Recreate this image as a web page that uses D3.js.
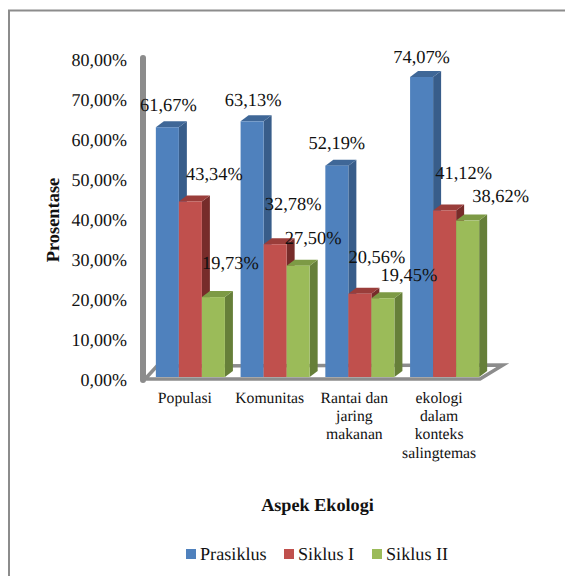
<!DOCTYPE html>
<html>
<head>
<meta charset="utf-8">
<script src="https://cdnjs.cloudflare.com/ajax/libs/d3/7.8.5/d3.min.js"></script>
<style>
  html, body { margin: 0; padding: 0; background: #fff; }
  svg { display: block; }
  text { font-family: "Liberation Serif", serif; fill: #111; text-rendering: geometricPrecision; }
</style>
</head>
<body>
<div id="chart"></div>
<script>
// data
var categories = ["Populasi", "Komunitas", "Rantai dan jaring makanan", "ekologi dalam konteks salingtemas"]
var categoryLines = [["Populasi"], ["Komunitas"], ["Rantai dan", "jaring", "makanan"], ["ekologi", "dalam", "konteks", "salingtemas"]]
var seriesNames = ["Prasiklus", "Siklus I", "Siklus II"]
var prasiklus = [61.67, 63.13, 52.19, 74.07]
var siklus1 = [43.34, 32.78, 20.56, 41.12]
var siklus2 = [19.73, 27.50, 19.45, 38.62]
var tickValues = [0, 10, 20, 30, 40, 50, 60, 70, 80]

// label nudges so the values don't sit on the bars [category][series]
var labelNudge = [
  [[1, -22], [24, -28], [17, -34]],
  [[1, -21], [18, -40], [15, -28]],
  [[0, -23], [17, -37], [26, -23]],
  [[0, -20], [19, -38], [33, -25]]
]

var seriesValues = [prasiklus, siklus1, siklus2]
var front = ["#4f81bd", "#c0504d", "#9bbb59"]
var side = ["#385d8a", "#772c2a", "#667f39"]
var top3d = ["#3f6797", "#9a3d3a", "#7d9a45"]
var axisGray = "#8c8c8c"

var width = 565, height = 576
var depthX = 8, depthY = 6

var fmt = function(v) { return v.toFixed(2).replace(".", ",") + "%" }

var svg = d3.select("#chart").append("svg")
  .attr("width", width)
  .attr("height", height)

// outer frame, only top and left show
svg.append("path")
  .attr("d", d3.line()([[9, height], [9, 10.5], [width, 10.5]]))
  .attr("fill", "none")
  .attr("stroke", axisGray)
  .attr("stroke-width", 2)

var x0 = d3.scaleBand()
  .domain(categories)
  .range([148, 487])
  .paddingInner(0.185)
  .paddingOuter(0.0926)

var x1 = d3.scaleBand()
  .domain(seriesNames)
  .range([0, x0.bandwidth()])

// bars stand on the front of the floor, the axis labels belong to the back wall
var yBar = d3.scaleLinear().domain([0, 80]).range([377, 53])
var yWall = d3.scaleLinear().domain([0, 80]).range([380, 60])

// floor
var floorLeft = 143, floorRight = 480
svg.append("path")
  .attr("d", d3.line()([
    [floorLeft + 3, yWall(0) - 2],
    [floorLeft + 14, yWall(0) - 14],
    [floorRight + 23, yWall(0) - 15],
    [floorRight, yWall(0) - 1],
    [floorLeft - 2, yWall(0) - 1]
  ]))
  .attr("fill", "none")
  .attr("stroke", axisGray)
  .attr("stroke-width", 3.5)

// wall line
svg.append("line")
  .attr("x1", floorLeft)
  .attr("x2", floorLeft)
  .attr("y1", yWall(80) - 2)
  .attr("y2", yWall(0))
  .attr("stroke", axisGray)
  .attr("stroke-width", 6)
  .attr("stroke-linecap", "round")

var yAxis = d3.axisLeft(yWall)
  .tickValues(tickValues)
  .tickSize(0)
  .tickPadding(0)
  .tickFormat(fmt)

svg.append("g")
  .attr("class", "axis axis--y")
  .attr("transform", "translate(127,0)")
  .call(yAxis)
  .call(function(g) { g.select(".domain").remove() })
  .selectAll("text")
  .style("font-family", '"Liberation Serif", serif')
  .style("font-size", "18px")
  .style("fill", "#111")

var xAxis = d3.axisBottom(x0).tickSize(0).tickPadding(0)

svg.append("g")
  .attr("class", "axis axis--x")
  .attr("transform", "translate(-5.5,392)")
  .call(xAxis)
  .call(function(g) { g.select(".domain").remove() })
  .selectAll("text")
  .style("font-family", '"Liberation Serif", serif')
  .style("font-size", "15.7px")
  .style("fill", "#111")
  .attr("y", 0)
  .attr("dy", null)
  .text(null)
  .each(function(d, i) {
    var t = d3.select(this)
    categoryLines[i].forEach(function(line, n) {
      t.append("tspan")
        .attr("x", 0)
        .attr("y", 11 + n * 18.2)
        .text(line)
    })
  })

// 3d bars
var group = svg.selectAll(".group")
  .data(categories)
  .enter().append("g")
  .attr("class", "group")
  .attr("transform", function(d) { return "translate(" + x0(d) + ",0)" })

group.each(function(cat, c) {
  var g = d3.select(this)
  seriesNames.forEach(function(name, s) {
    var v = seriesValues[s][c]
    var bx = x1(name), bw = x1.bandwidth(), by = yBar(v), b0 = yBar(0)

    g.append("polygon")
      .attr("points", [[bx + bw, by], [bx + bw + depthX, by - depthY], [bx + bw + depthX, b0 - depthY], [bx + bw, b0]].join(" "))
      .attr("fill", side[s])
    g.append("polygon")
      .attr("points", [[bx, by], [bx + depthX, by - depthY], [bx + bw + depthX, by - depthY], [bx + bw, by]].join(" "))
      .attr("fill", top3d[s])
    g.append("rect")
      .attr("class", "bar")
      .attr("x", bx)
      .attr("y", by)
      .attr("width", bw)
      .attr("height", b0 - by)
      .attr("fill", front[s])
  })
})

// value labels go over all the bars
categories.forEach(function(cat, c) {
  seriesNames.forEach(function(name, s) {
    var v = seriesValues[s][c]
    svg.append("text")
      .attr("class", "value")
      .attr("x", x0(cat) + x1(name) + x1.bandwidth() / 2 + labelNudge[c][s][0])
      .attr("y", yBar(v) + labelNudge[c][s][1])
      .attr("dy", "0.33em")
      .attr("text-anchor", "middle")
      .style("font-size", "18.4px")
      .text(fmt(v))
  })
})

// axis titles
svg.append("text")
  .attr("transform", "translate(53,220) rotate(-90)")
  .attr("dy", "0.33em")
  .attr("text-anchor", "middle")
  .style("font-size", "18.4px")
  .style("font-weight", "bold")
  .text("Prosentase")

svg.append("text")
  .attr("x", 317.5)
  .attr("y", 511)
  .attr("text-anchor", "middle")
  .style("font-size", "18.2px")
  .style("font-weight", "bold")
  .text("Aspek Ekologi")

// legend
var legendX = [186, 284, 372]
var legend = svg.selectAll(".legend")
  .data(seriesNames)
  .enter().append("g")
  .attr("class", "legend")
  .attr("transform", function(d, i) { return "translate(" + legendX[i] + ",549)" })

legend.append("rect")
  .attr("width", 10)
  .attr("height", 10)
  .attr("fill", function(d, i) { return front[i] })

legend.append("text")
  .attr("x", 14)
  .attr("y", 11)
  .style("font-size", "18.2px")
  .text(function(d) { return d })
</script>
</body>
</html>
